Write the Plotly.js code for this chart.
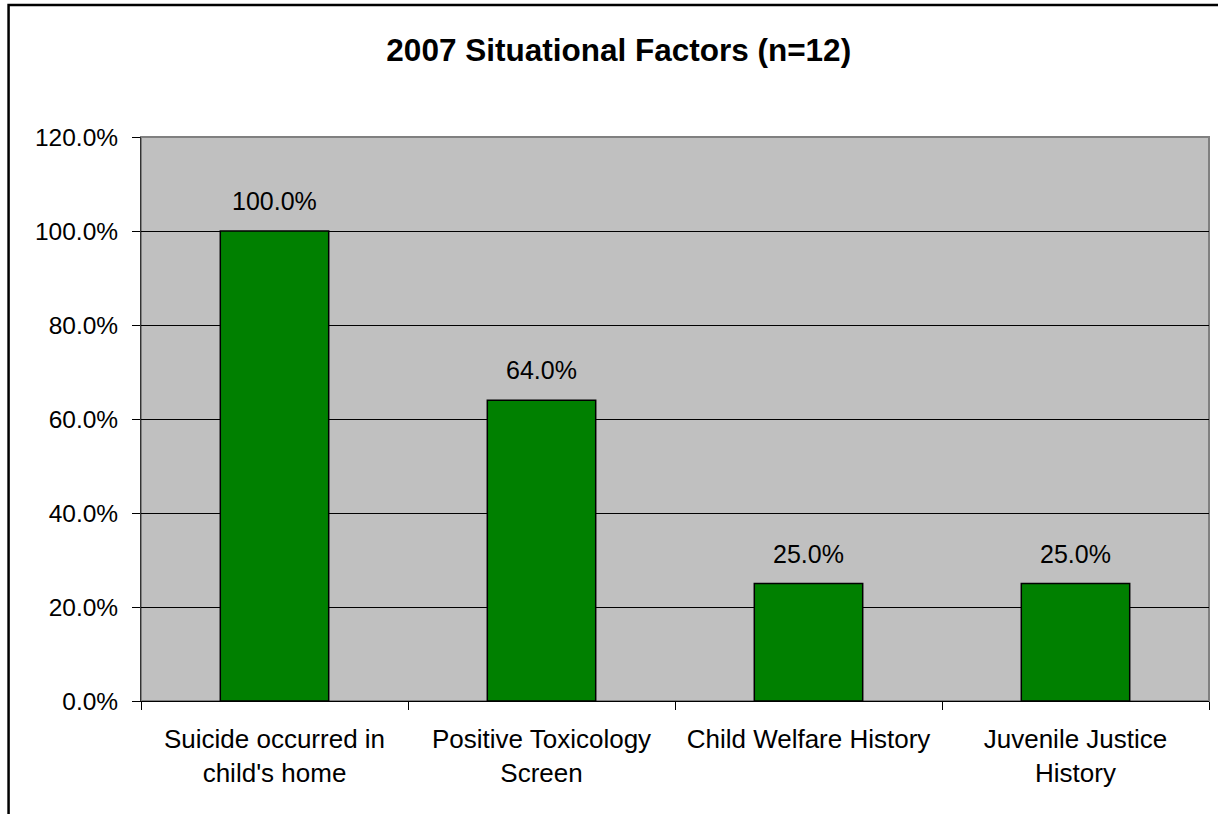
<!DOCTYPE html>
<html>
<head>
<meta charset="utf-8">
<script src="https://cdn.plot.ly/plotly-3.0.1.min.js"></script>
<style>html,body{margin:0;padding:0;background:#fff;}#chart{width:1218px;height:814px;}</style>
</head>
<body>
<div id="chart"></div>
<script>
const categories = ["Suicide occurred in<br>child's home", "Positive Toxicology<br>Screen", "Child Welfare History", "Juvenile Justice<br>History"];
const values = [1.00, 0.64, 0.25, 0.25];
const labels = ["100.0%", "64.0%", "25.0%", "25.0%"];
const titleText = "2007 Situational Factors (n=12)";

const FONT = "Liberation Sans, Arial, sans-serif";

const trace = {
  type: 'bar',
  x: categories,
  y: values,
  marker: {color: '#008000', line: {color: '#000000', width: 1.5}},
  hoverinfo: 'none'
};

const annotations = categories.map((c, i) => ({
  x: c, y: values[i], xref: 'x', yref: 'y',
  text: labels[i], showarrow: false,
  yanchor: 'bottom', yshift: 14,
  font: {family: FONT, size: 25, color: '#000'}
}));

const layout = {
  width: 1218, height: 814,
  margin: {l: 141, r: 9, t: 137, b: 113, pad: 0},
  paper_bgcolor: '#ffffff',
  plot_bgcolor: 'rgba(0,0,0,0)',
  showlegend: false,
  bargap: 0.594,
  title: {
    text: '<b>' + titleText + '</b>',
    font: {family: FONT, size: 31.5, color: '#000'},
    x: 0.508, xanchor: 'center', xref: 'container',
    y: 0.939, yanchor: 'middle', yref: 'container'
  },
  xaxis: {
    type: 'category',
    tickson: 'boundaries',
    ticks: 'outside', ticklen: 8, tickcolor: '#000', tickwidth: 1,
    showline: true, linecolor: '#000', linewidth: 1,
    showgrid: false,
    tickfont: {family: FONT, size: 26, color: '#000'},
    ticklabelstandoff: 15,
    fixedrange: true
  },
  yaxis: {
    range: [0, 1.2], dtick: 0.2, tick0: 0,
    tickformat: '.1%',
    ticks: 'outside', ticklen: 8, tickcolor: '#000', tickwidth: 1,
    showline: true, linecolor: '#333', linewidth: 1,
    showgrid: true, gridcolor: '#000', gridwidth: 1,
    zeroline: false,
    tickfont: {family: FONT, size: 24.5, color: '#000'},
    ticklabelstandoff: 9,
    fixedrange: true
  },
  shapes: [
    {type: 'rect', xref: 'paper', yref: 'paper', x0: 0, x1: 1, y0: 0, y1: 1,
     fillcolor: '#C0C0C0', line: {color: '#808080', width: 2}, layer: 'below'},
    {type: 'rect', xref: 'paper', yref: 'paper', x0: -0.1240, x1: 1.05, y0: -0.3, y1: 1.2340,
     fillcolor: 'rgba(0,0,0,0)', line: {color: '#000', width: 2.5}, layer: 'above'}
  ],
  annotations: annotations
};

Plotly.newPlot('chart', [trace], layout, {displayModeBar: false, staticPlot: true});
</script>
</body>
</html>
